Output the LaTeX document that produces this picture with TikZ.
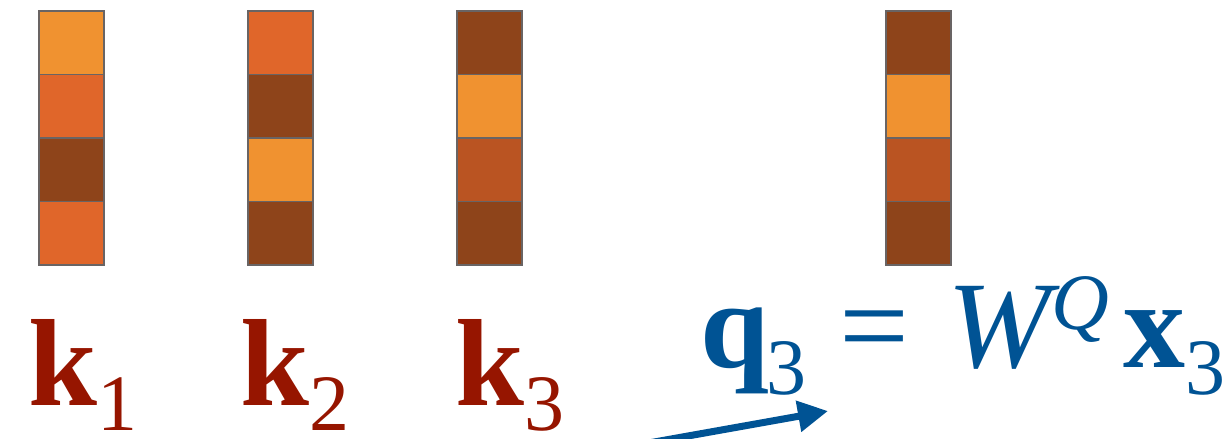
\documentclass[tikz,border=0pt]{standalone}
\usepackage{fontspec}
\setmainfont{Liberation Serif}
\usetikzlibrary{arrows.meta}
\definecolor{clight}{RGB}{240,146,48}
\definecolor{corange}{RGB}{224,102,42}
\definecolor{cdark}{RGB}{142,68,26}
\definecolor{cmed}{RGB}{186,84,34}
\definecolor{cborder}{RGB}{105,100,100}
\definecolor{kred}{RGB}{150,21,0}
\definecolor{qblue}{RGB}{0,83,148}
\newcommand{\subsz}{\fontsize{80}{84}\selectfont}
\newcommand{\lowsub}[1]{\raisebox{-25pt}[0pt][0pt]{\subsz #1}}
\tikzset{
  cell/.style={draw=cborder, line width=1.3pt, minimum width=65pt, minimum height=63.5pt, inner sep=0pt, outer sep=0pt, anchor=north west},
  klabel/.style={text=kred, font=\fontsize{124}{130}\selectfont, inner sep=0pt, anchor=base west},
  qlabel/.style={text=qblue, font=\fontsize{124}{130}\selectfont, inner sep=0pt, anchor=base west},
  qarrow/.style={draw=qblue, line width=7pt, -{Triangle[length=30pt,width=30pt]}}
}
\begin{document}
\begin{tikzpicture}[x=1pt,y=-1pt]
\useasboundingbox (0,0) rectangle (1226,439);
\clip (0,0) rectangle (1226,439);
% column 1
\node[cell, fill=clight]  (c11) at (39,11) {};
\node[cell, fill=corange] (c12) at (39,74.5) {};
\node[cell, fill=cdark]   (c13) at (39,138) {};
\node[cell, fill=corange] (c14) at (39,201.5) {};
% column 2
\node[cell, fill=corange] (c21) at (248,11) {};
\node[cell, fill=cdark]   (c22) at (248,74.5) {};
\node[cell, fill=clight]  (c23) at (248,138) {};
\node[cell, fill=cdark]   (c24) at (248,201.5) {};
% column 3
\node[cell, fill=cdark]   (c31) at (457,11) {};
\node[cell, fill=clight]  (c32) at (457,74.5) {};
\node[cell, fill=cmed]    (c33) at (457,138) {};
\node[cell, fill=cdark]   (c34) at (457,201.5) {};
% column 4
\node[cell, fill=cdark]   (c41) at (886,11) {};
\node[cell, fill=clight]  (c42) at (886,74.5) {};
\node[cell, fill=cmed]    (c43) at (886,138) {};
\node[cell, fill=cdark]   (c44) at (886,201.5) {};
% labels
\node[klabel] (k1) at (28,405) {\textbf{k}\lowsub{1}};
\node[klabel] (k2) at (240,405) {\textbf{k}\lowsub{2}};
\node[klabel] (k3) at (455,405) {\textbf{k}\lowsub{3}};
\node[qlabel] (q3) at (700,367) {\textbf{q}\kern-3pt\raisebox{-27pt}[0pt][0pt]{\subsz 3}\hspace{33pt}=\hspace{38pt}\textit{W}\kern-8pt\raisebox{38pt}{\subsz\itshape Q}\kern14pt\textbf{x}\raisebox{-27pt}[0pt][0pt]{\subsz 3}};
% arrow
\coordinate (tail) at (615,449);
\coordinate (tip) at (828,411);
\draw[qarrow] (tail) -- (tip);
\end{tikzpicture}
\end{document}
